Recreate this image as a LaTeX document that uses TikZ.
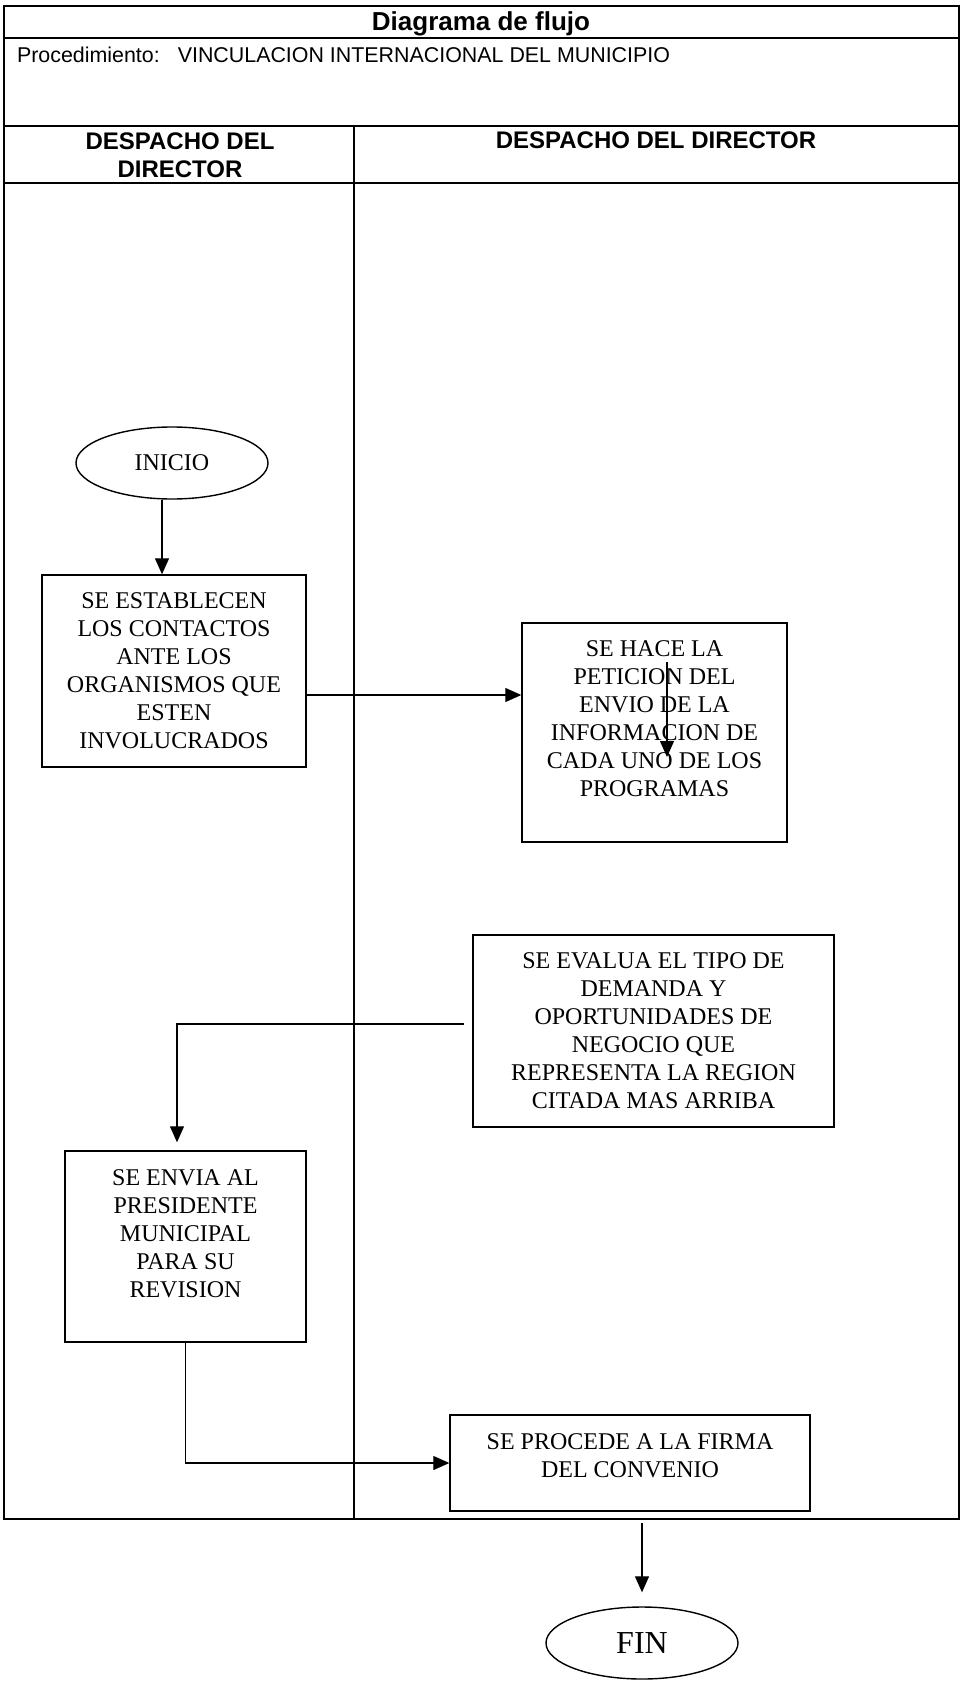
\documentclass[tikz,border=0pt]{standalone}
\usepackage{fontspec}
\setmainfont{Liberation Serif}
\newfontfamily\arial{Liberation Sans}
\usetikzlibrary{arrows.meta,shapes.geometric}
\tikzset{
  caja/.style={draw, line width=0.7pt, align=center, inner sep=2pt, font=\fontsize{12}{14}\selectfont},
  terminal/.style={ellipse, draw, line width=0.7pt, minimum width=96pt, minimum height=36pt, inner sep=0pt, font=\fontsize{12}{14}\selectfont},
  carril/.style={align=center, font=\arial\bfseries\fontsize{12}{14}\selectfont},
  flecha/.style={line width=0.6pt, -{Triangle[length=8pt,width=7pt]}}
}
\begin{document}
\begin{tikzpicture}[x=0.5pt, y=-0.5pt]
                \useasboundingbox (0,0) rectangle (961,1686);
                \draw[line width=1.3pt] (4,6) rectangle (959,1519);
                \draw[line width=1pt] (4,38) -- (959,38);
                \draw[line width=1pt] (4,126) -- (959,126);
                \draw[line width=1pt] (4,183) -- (959,183);
                \draw[line width=0.8pt] (354,126) -- (354,1519);

                \node[font=\arial\bfseries\fontsize{13}{15}\selectfont] (titulo) at (481,24) {Diagrama de flujo};
                \node[anchor=west, font=\arial\fontsize{10.7}{13}\selectfont] (proc) at (10,55) {Procedimiento:\hspace{9pt}VINCULACION INTERNACIONAL DEL MUNICIPIO};
                \node[carril] (carrilA) at (180,155) {DESPACHO DEL\\DIRECTOR};
                \node[carril] (carrilB) at (656,140) {DESPACHO DEL DIRECTOR};

                \node[terminal] (ini) at (172,463) {INICIO};
                \node[caja, minimum width=132pt, minimum height=96pt] (est) at (174,671) {SE ESTABLECEN\\LOS CONTACTOS\\ANTE LOS\\ORGANISMOS QUE\\ESTEN\\INVOLUCRADOS};
                \node[caja, minimum width=132.5pt, minimum height=109.5pt, text depth=14pt] (pet) at (654.5,732.5) {SE HACE LA\\PETICION DEL\\ENVIO DE LA\\INFORMACION DE\\CADA UNO DE LOS\\PROGRAMAS};
                \node[caja, minimum width=180.5pt, minimum height=96pt] (eva) at (653.5,1031) {SE EVALUA EL TIPO DE\\DEMANDA Y\\OPORTUNIDADES DE\\NEGOCIO QUE\\REPRESENTA LA REGION\\CITADA MAS ARRIBA};
                \node[caja, minimum width=120.5pt, minimum height=95.5pt, text depth=13pt] (env) at (185.5,1246.5) {SE ENVIA AL\\PRESIDENTE\\MUNICIPAL\\PARA SU\\REVISION};
                \node[caja, minimum width=180pt, minimum height=48pt, text depth=7pt] (fir) at (630,1463) {SE PROCEDE A LA FIRMA\\DEL CONVENIO};
                \node[terminal, font=\fontsize{16}{18}\selectfont] (fin) at (642,1643) {FIN};

                \draw[flecha] ([xshift=-5pt]ini.south) -- ([xshift=-5pt]ini.south |- est.north);
                \draw[flecha] ([yshift=-12pt]est.east) -- ([yshift=-12pt]est.east -| pet.west);
                \draw[flecha] ([xshift=6.25pt,yshift=35.25pt]pet.center) -- ([xshift=6.25pt,yshift=-12.25pt]pet.center);
                \draw[flecha] ([xshift=-4pt,yshift=3.5pt]eva.west) -| ([xshift=-4.25pt,yshift=4pt]env.north);
                \draw[flecha] (env.south) |- (fir.west);
                \draw[flecha] (fin.north |- fir.south) ++(0,11) -- ([yshift=7pt]fin.north);
\end{tikzpicture}
\end{document}
